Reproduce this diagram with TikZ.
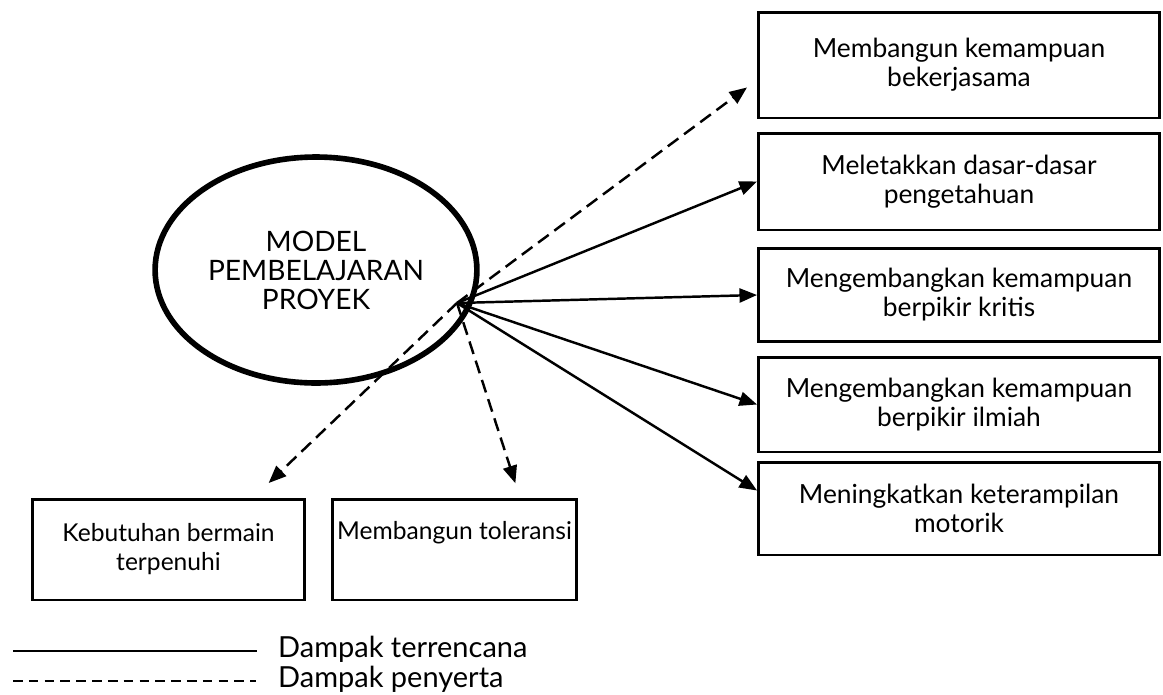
\documentclass[tikz,border=0pt]{standalone}
\usepackage{fontspec}
\setmainfont{Lato}
\usetikzlibrary{arrows.meta, positioning, shapes.geometric}

\begin{document}
\begin{tikzpicture}[x=0.02cm, y=-0.02cm,
    every node/.style={font=\fontsize{15}{16.5}\selectfont, align=center},
    model_node/.style={ellipse, draw, line width=3.2pt, minimum width=5.84cm, minimum height=4.52cm, font=\fontsize{16}{16.5}\selectfont},
    impact_box/.style={rectangle, draw, line width=1.7pt, minimum width=8.02cm},
    bottom_box/.style={rectangle, draw, line width=1.7pt, minimum height=2.02cm, inner xsep=2pt, font=\fontsize{14}{16.5}\selectfont},
    planned/.style={-{Triangle[length=10pt, width=8pt]}, line width=1.4pt},
    side_effect/.style={planned, dash pattern=on 7.5pt off 4pt},
    legend_text/.style={anchor=west, font=\fontsize{16.5}{18}\selectfont}
]
\useasboundingbox (0,0) rectangle (1163,694);

% Simpul
\node[model_node] (model) at (316,270) {MODEL\\PEMBELAJARAN\\PROYEK};
\coordinate (src) at (457,303);

\node[impact_box, minimum height=2.12cm] (b1) at (959,65) {Membangun kemampuan\\bekerjasama};
\node[impact_box, minimum height=1.94cm] (b2) at (959,181.5) {Meletakkan dasar-dasar\\pengetahuan};
\node[impact_box, minimum height=1.86cm] (b3) at (959,295) {Mengembangkan kemampuan\\berpikir kritis};
\node[impact_box, minimum height=1.9cm] (b4) at (959,404.5) {Mengembangkan kemampuan\\berpikir ilmiah};
\node[impact_box, minimum height=1.86cm] (b5) at (959,508.5) {Meningkatkan keterampilan\\motorik};

\node[bottom_box, minimum width=5.46cm] (bA) at (168.5,549.5) {Kebutuhan bermain\\terpenuhi};
\node[bottom_box, minimum width=4.9cm] (bB) at (454.5,549.5) {Membangun toleransi\\\strut};

% Panah
\draw[side_effect, shorten >=0.25cm] (src) -- ([yshift=-0.3cm]b1.west);
\draw[planned] (src) -- (b2.west);
\draw[planned] (src) -- (b3.west);
\draw[planned] (src) -- (b4.west);
\draw[planned] (src) -- ([yshift=0.36cm]b5.west);
\draw[side_effect, shorten >=0.3cm] (src) -- ([xshift=1.31cm]bB.north);
\draw[side_effect, shorten >=0.42cm] (src) -- ([xshift=1.7cm]bA.north);

% Keterangan
\coordinate (l1a) at (13,651);
\coordinate (l1b) at (257,651);
\coordinate (l2a) at (13,681);
\coordinate (l2b) at (256,681);
\draw[line width=1.5pt] (l1a) -- (l1b);
\draw[line width=1.5pt, dash pattern=on 5.5pt off 3.5pt] (l2a) -- (l2b);
\node[legend_text] (k1) at (272,649) {Dampak terrencana};
\node[legend_text] (k2) at (272,679) {Dampak penyerta};

\end{tikzpicture}
\end{document}
